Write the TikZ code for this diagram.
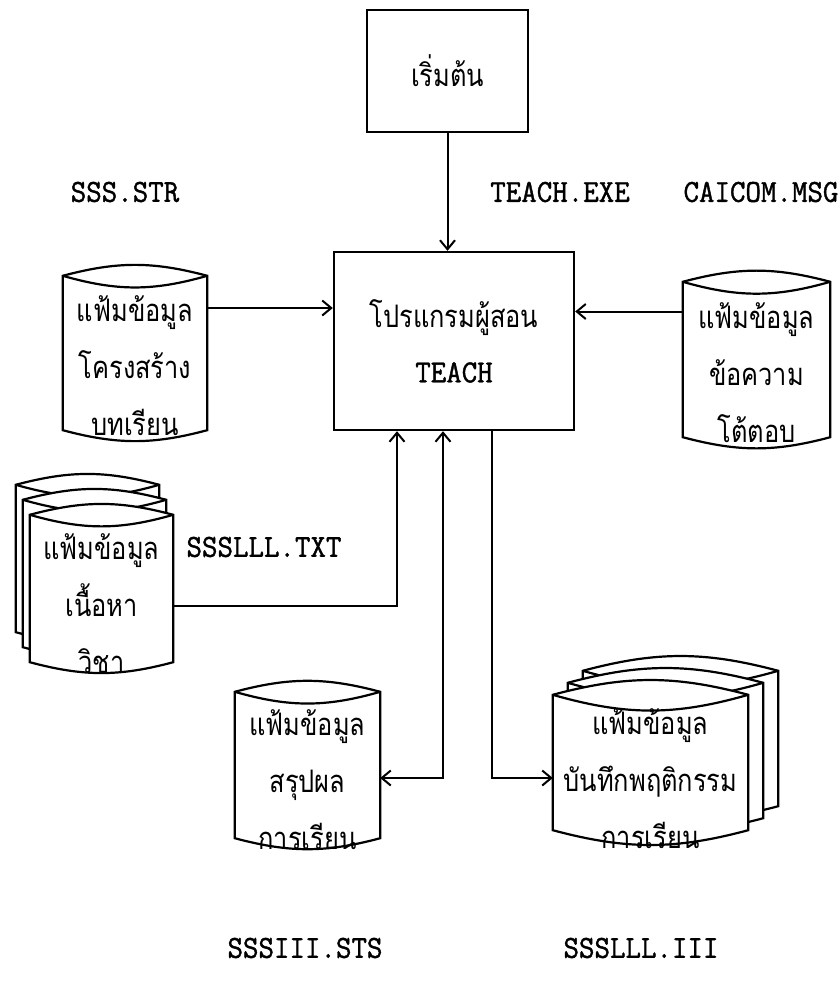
\documentclass[tikz,border=0pt]{standalone}
\usepackage{fontspec}
\newfontfamily\thai[Script=Thai, FakeStretch=0.82]{Loma}
\newfontfamily\fnt[FakeStretch=0.94, BoldFont={Latin Modern Mono}, BoldFeatures={FakeBold=1.3}]{Latin Modern Mono}
\usetikzlibrary{arrows.meta}

\tikzset{
  box/.style={draw, line width=2.4pt, inner sep=0pt},
  db/.style={inner sep=0pt},
  dbtext/.style={align=center, font=\thai\fontsize{31}{57}\selectfont},
  fname/.style={font=\fnt\bfseries\fontsize{32}{36}\selectfont},
  flow/.style={->, line width=2pt},
  >={Straight Barb[length=9pt,width=15pt]},
}
% outline of a file drum around a node
\newcommand\dbcyl[1]{%
  \draw[line width=2.2pt, fill=white] (#1.north west) to[bend left=15] (#1.north east)
    -- (#1.south east) to[bend left=15] (#1.south west) -- cycle;
  \draw[line width=2.2pt] (#1.north west) to[bend right=16] (#1.north east);}

\begin{document}
\begin{tikzpicture}[x=1pt, y=-1pt]
  \useasboundingbox (0,0) rectangle (839,983);

  % Program boxes
  \node[box, minimum width=161pt, minimum height=122pt, font=\thai\fontsize{31}{36}\selectfont] (start) at (447.5,71) {เริ่มต้น};
  \node[box, minimum width=240pt, minimum height=178pt, align=center, font=\thai\fontsize{31}{55}\selectfont] (teach) at (454,341) {โปรแกรมผู้สอน\\{\fnt\bfseries\fontsize{32}{55}\selectfont TEACH}};

  % File drums
  \node[db, minimum width=144pt, minimum height=154pt] (str) at (135,353) {};
  \dbcyl{str}
  \node[dbtext] (str-t) at ([yshift=-13pt]str.center) {แฟ้มข้อมูล\\โครงสร้าง\\บทเรียน};

  \node[db, minimum width=147pt, minimum height=155pt] (cai) at (756.5,359.5) {};
  \dbcyl{cai}
  \node[dbtext] (cai-t) at ([yshift=-13pt]cai.center) {แฟ้มข้อมูล\\ข้อความ\\โต้ตอบ};

  % stacked content files
  \node[db, minimum width=143pt, minimum height=147pt] (txt-b) at (87.5,558.5) {};
  \node[db, minimum width=143pt, minimum height=147pt] (txt-c) at (94.5,573.5) {};
  \node[db, minimum width=143pt, minimum height=147pt] (txt) at (101.5,588.5) {};
  \dbcyl{txt-b}
  \dbcyl{txt-c}
  \dbcyl{txt}
  \node[dbtext] (txt-t) at ([yshift=-15pt]txt.center) {แฟ้มข้อมูล\\เนื้อหา\\วิชา};

  \node[db, minimum width=145pt, minimum height=146pt] (sum) at (307.5,765) {};
  \dbcyl{sum}
  \node[dbtext] (sum-t) at ([yshift=-15pt]sum.center) {แฟ้มข้อมูล\\สรุปผล\\การเรียน};

  % stacked behaviour records
  \node[db, minimum width=195pt, minimum height=135pt] (beh-b) at (680.5,738.5) {};
  \node[db, minimum width=195pt, minimum height=135pt] (beh-c) at (665.5,750.5) {};
  \node[db, minimum width=195pt, minimum height=135pt] (beh) at (650.5,762.5) {};
  \dbcyl{beh-b}
  \dbcyl{beh-c}
  \dbcyl{beh}
  \node[dbtext] (beh-t) at ([yshift=-16pt]beh.center) {แฟ้มข้อมูล\\บันทึกพฤติกรรม\\การเรียน};

  % File names
  \node[fname] (str-f) at (125,192) {SSS.STR};
  \node[fname] (exe-f) at (560,192) {TEACH.EXE};
  \node[fname, anchor=west] (cai-f) at (680,192) {CAICOM.MSG};
  \node[fname, anchor=west] (txt-f) at (183,547) {SSSLLL.TXT};
  \node[fname] (sum-f) at (305,948) {SSSIII.STS};
  \node[fname] (beh-f) at (641,948) {SSSLLL.III};

  % Connectors
  \coordinate (str-o) at ([yshift=45pt]str.east);
  \coordinate (cai-o) at ([yshift=48pt]cai.west);
  \coordinate (txt-o) at ([yshift=-17pt]txt.east);
  \coordinate (sum-o) at ([yshift=-13pt]sum.east);
  \coordinate (beh-o) at ([yshift=-15.5pt]beh.west);
  \coordinate (teach-a) at ([xshift=-57pt]teach.south);
  \coordinate (teach-b) at ([xshift=-11pt]teach.south);
  \coordinate (teach-c) at ([xshift=38pt]teach.south);

  \draw[flow] (start) -- (start |- teach.north);
  \draw[flow] (str-o) -- (str-o -| teach.west);
  \draw[flow] (cai-o) -- (cai-o -| teach.east);
  \draw[flow] (txt-o) -| (teach-a);
  \draw[flow, <->] (teach-b) |- (sum-o);
  \draw[flow] (teach-c) |- (beh-o);
\end{tikzpicture}
\end{document}
